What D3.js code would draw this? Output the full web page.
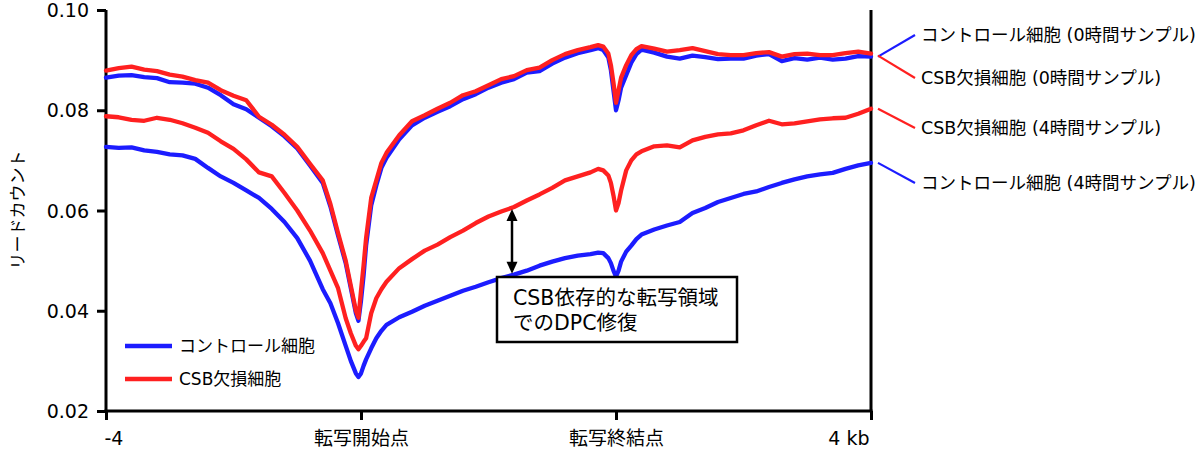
<!DOCTYPE html>
<html><head><meta charset="utf-8">
<script src="https://cdn.jsdelivr.net/npm/d3@7"></script>
<style>
html,body{margin:0;padding:0;background:#fff;}
svg text{font-family:"DejaVu Sans","Noto Sans CJK JP",sans-serif;fill:#000;}
</style></head>
<body><svg id="c" width="1200" height="449"></svg>
<script>
// bin positions: 0 = -4 kb, 100 = TSS, 200 = TES, 300 = +4 kb
const bins = [0,5,10,15,20,25,30,35,40,45,50,55,60,65,70,75,80,
  85,88,91,94,96,98,99,100,101,102,104,106,108,110,
  115,120,125,130,135,140,145,150,155,160,165,170,175,180,185,190,
  193,195,197,198,199,200,201,202,204,206,208,210,
  215,220,225,230,235,240,245,250,255,260,265,270,275,280,285,290,295,300];

const control0h = [.0865,.0869,.0870,.0866,.0864,.0856,.0855,.0853,.0845,.0830,.0812,.0802,.0785,.0768,.0748,.0724,.0690,
  .0655,.0608,.0550,.0495,.0445,.0395,.0380,.0420,.0470,.0530,.0610,.0650,.0685,.0705,
  .0742,.0770,.0785,.0797,.0808,.0822,.0832,.0845,.0855,.0862,.0875,.0878,.0893,.0905,.0914,.0920,
  .0924,.0920,.0905,.0880,.0840,.0800,.0820,.0845,.0870,.0895,.0912,.0921,
  .0915,.0907,.0903,.0909,.0906,.0902,.0903,.0903,.0909,.0912,.0898,.0904,.0901,.0905,.0901,.0903,.0908,.0907];

const csb0h = [.0879,.0884,.0887,.0881,.0878,.0871,.0867,.0860,.0855,.0840,.0829,.0820,.0787,.0771,.0751,.0727,.0693,
  .0660,.0613,.0555,.0500,.0450,.0400,.0386,.0440,.0490,.0545,.0625,.0660,.0695,.0715,
  .0750,.0778,.0790,.0803,.0815,.0830,.0838,.0850,.0862,.0868,.0880,.0885,.0900,.0912,.0920,.0926,
  .0930,.0927,.0913,.0890,.0855,.0815,.0840,.0865,.0890,.0910,.0922,.0928,
  .0923,.0917,.0920,.0924,.0918,.0912,.0910,.0910,.0914,.0916,.0907,.0912,.0913,.0910,.0910,.0914,.0917,.0913];

const csb4h = [.0788,.0786,.0781,.0779,.0785,.0781,.0774,.0765,.0755,.0738,.0723,.0702,.0676,.0668,.0635,.0600,.0560,
  .0515,.0480,.0445,.0385,.0355,.0330,.0323,.0330,.0338,.0345,.0395,.0425,.0443,.0458,
  .0485,.0503,.0520,.0532,.0547,.0560,.0575,.0588,.0598,.0607,.0620,.0632,.0645,.0660,.0668,.0676,
  .0683,.0680,.0670,.0655,.0630,.0600,.0615,.0640,.0680,.0700,.0712,.0718,
  .0728,.0730,.0726,.0740,.0747,.0752,.0754,.0760,.0770,.0779,.0772,.0774,.0778,.0782,.0784,.0785,.0793,.0803];

const control4h = [.0727,.0725,.0726,.0720,.0717,.0712,.0710,.0703,.0685,.0668,.0655,.0640,.0625,.0603,.0577,.0545,.0500,
  .0443,.0415,.0375,.0330,.0300,.0275,.0268,.0275,.0290,.0303,.0325,.0345,.0360,.0372,
  .0387,.0398,.0410,.0420,.0430,.0440,.0448,.0457,.0465,.0472,.0480,.0490,.0498,.0505,.0510,.0513,
  .0516,.0515,.0505,.0495,.0480,.0468,.0480,.0498,.0518,.0530,.0543,.0552,
  .0562,.0570,.0577,.0595,.0605,.0617,.0625,.0633,.0638,.0647,.0655,.0662,.0668,.0672,.0675,.0683,.0690,.0695];

const xTickPos = [0,100,200,300];
const xTickLabels = ["-4","転写開始点","転写終結点","4 kb"];
const yTicks = [0.02,0.04,0.06,0.08,0.10];
const yTitle = "リードカウント";
const legendLabels = ["コントロール細胞","CSB欠損細胞"];
const seriesLabels = ["コントロール細胞 (0時間サンプル)","CSB欠損細胞 (0時間サンプル)","CSB欠損細胞 (4時間サンプル)","コントロール細胞 (4時間サンプル)"];
const boxLines = ["CSB依存的な転写領域","でのDPC修復"];
const arrowBin = 160;

const BLUE = "#1c1cff", RED = "#ff2020";
const svg = d3.select("#c");
const x = d3.scaleLinear().domain([0,300]).range([106,871]);
const y = d3.scaleLinear().domain([0.02,0.10]).range([411,10]);

// axes
const yAxis = d3.axisLeft(y).tickValues(yTicks).tickFormat(d3.format(".2f")).tickSize(9).tickPadding(8);
const gy = svg.append("g").attr("transform","translate(106,0)").call(yAxis);
gy.select(".domain").remove();
gy.selectAll(".tick line").attr("stroke","#000").attr("stroke-width",3);
gy.selectAll(".tick text").attr("font-size",19).attr("dy","0.35em");

const xAxis = d3.axisBottom(x).tickValues(xTickPos).tickFormat((d,i)=>xTickLabels[i]).tickSize(9).tickPadding(0);
const gx = svg.append("g").attr("transform","translate(0,411)").call(xAxis);
gx.select(".domain").remove();
gx.selectAll(".tick line").attr("stroke","#000").attr("stroke-width",3);
gx.selectAll(".tick text").attr("font-size",19).attr("y",0).attr("dy",34)
  .attr("text-anchor",(d,i)=> i===0?"start": i===3?"end":"middle")
  .attr("dx",(d,i)=> i===0?-2: i===3?-2:0);

// frame lines
svg.append("line").attr("x1",106).attr("x2",106).attr("y1",y(0.10)).attr("y2",411).attr("stroke","#000").attr("stroke-width",3);
svg.append("line").attr("x1",871).attr("x2",871).attr("y1",y(0.10)).attr("y2",411).attr("stroke","#000").attr("stroke-width",3);
svg.append("line").attr("x1",104.5).attr("x2",872.5).attr("y1",411).attr("y2",411).attr("stroke","#000").attr("stroke-width",3);

svg.append("text").attr("transform","translate(18,210) rotate(-90)").attr("text-anchor","middle")
  .attr("dy","0.35em").attr("font-size",17).text(yTitle);

// series
const line = d3.line().x((d,i)=>x(bins[i])).y(d=>y(d));
const series = [
  {v:control4h,c:BLUE},{v:csb4h,c:RED},{v:control0h,c:BLUE},{v:csb0h,c:RED}
];
series.forEach(s=>{
  svg.append("path").attr("d",line(s.v)).attr("fill","none").attr("stroke",s.c)
    .attr("stroke-width",4.3).attr("stroke-linejoin","round").attr("stroke-linecap","round");
});

// right labels with leader lines
const last = a=>a[a.length-1];
const rightItems = [
  {v:last(control0h),c:BLUE,ly:35,t:seriesLabels[0]},
  {v:last(csb0h)-0.0004,c:RED,ly:78,t:seriesLabels[1]},
  {v:last(csb4h),c:RED,ly:128,t:seriesLabels[2]},
  {v:last(control4h),c:BLUE,ly:183,t:seriesLabels[3]}
];
rightItems.forEach(r=>{
  svg.append("line").attr("x1",878).attr("y1",y(r.v)).attr("x2",915).attr("y2",r.ly)
    .attr("stroke",r.c).attr("stroke-width",2.2);
  svg.append("text").attr("x",921).attr("y",r.ly).attr("dy","0.35em").attr("font-size",17.5).text(r.t);
});

// legend
[[BLUE,346],[RED,379]].forEach((l,i)=>{
  svg.append("line").attr("x1",125).attr("x2",172).attr("y1",l[1]).attr("y2",l[1]).attr("stroke",l[0]).attr("stroke-width",4.5);
  svg.append("text").attr("x",179).attr("y",l[1]).attr("dy","0.35em").attr("font-size",17).text(legendLabels[i]);
});

// arrow
const ai = bins.indexOf(arrowBin);
const ax = x(arrowBin)-2, ay1 = y(csb4h[ai])+2, ay2 = y(control4h[ai])-1;
svg.append("line").attr("x1",ax).attr("x2",ax).attr("y1",ay1+10).attr("y2",ay2-10).attr("stroke","#000").attr("stroke-width",2.5);
svg.append("path").attr("d",`M${ax},${ay1} L${ax-5.5},${ay1+12} L${ax+5.5},${ay1+12} Z`).attr("fill","#000");
svg.append("path").attr("d",`M${ax},${ay2} L${ax-5.5},${ay2-12} L${ax+5.5},${ay2-12} Z`).attr("fill","#000");

// annotation box
svg.append("rect").attr("x",497).attr("y",277).attr("width",240).attr("height",65)
  .attr("fill","#fff").attr("stroke","#000").attr("stroke-width",2.5);
boxLines.forEach((t,i)=>{
  svg.append("text").attr("x",513).attr("y",298+i*25).attr("dy","0.35em").attr("font-size",20.5).text(t);
});
</script></body></html>
